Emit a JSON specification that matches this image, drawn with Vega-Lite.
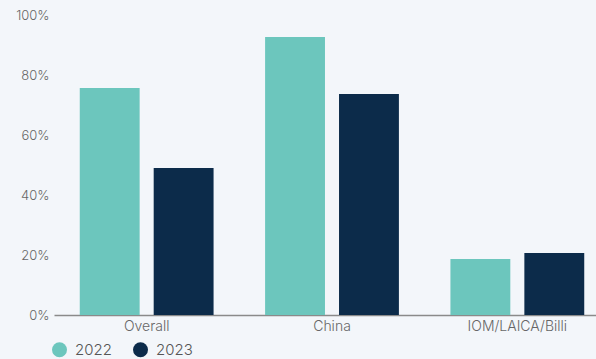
{
  "$schema": "https://vega.github.io/schema/vega-lite/v6.json",
  "autosize": "none",
  "width": 556,
  "height": 300,
  "padding": {"left": 54, "top": 15, "right": 0, "bottom": 44},
  "background": "#f3f6fa",
  "config": {
    "view": {"stroke": null},
    "font": "Inter"
  },
  "data": {
    "values": [
      {"category": "Overall", "year": "2022", "value": 75.7},
      {"category": "Overall", "year": "2023", "value": 49.0},
      {"category": "China", "year": "2022", "value": 92.7},
      {"category": "China", "year": "2023", "value": 73.7},
      {"category": "IOM/LAICA/Billi", "year": "2022", "value": 18.7},
      {"category": "IOM/LAICA/Billi", "year": "2023", "value": 20.7}
    ]
  },
  "mark": {"type": "bar"},
  "encoding": {
    "x": {
      "field": "category",
      "type": "nominal",
      "sort": ["Overall", "China", "IOM/LAICA/Billi"],
      "scale": {"paddingInner": 0.278, "paddingOuter": 0.139},
      "axis": {
        "title": null,
        "labelAngle": 0,
        "labelFontSize": 14,
        "labelFontWeight": 300,
        "labelColor": "#666666",
        "labelPadding": 4,
        "ticks": false,
        "domainColor": "#8a8a8a",
        "domainWidth": 1.5
      }
    },
    "xOffset": {
      "field": "year",
      "type": "nominal",
      "scale": {"paddingInner": 0.19, "paddingOuter": 0}
    },
    "y": {
      "field": "value",
      "type": "quantitative",
      "scale": {"domain": [0, 100]},
      "axis": {
        "title": null,
        "values": [0, 20, 40, 60, 80, 100],
        "labelExpr": "datum.value + '%'",
        "grid": false,
        "domain": false,
        "ticks": false,
        "labelFontSize": 13,
        "labelFontWeight": 300,
        "labelColor": "#666666",
        "labelPadding": 5
      }
    },
    "color": {
      "field": "year",
      "type": "nominal",
      "scale": {"domain": ["2022", "2023"], "range": ["#6cc6bd", "#0c2b4a"]},
      "legend": {
        "title": null,
        "orient": "none",
        "direction": "horizontal",
        "legendX": -2,
        "legendY": 327,
        "symbolType": "circle",
        "symbolSize": 225,
        "symbolStrokeWidth": 0,
        "labelFontSize": 15,
        "labelFontWeight": 300,
        "labelColor": "#555555",
        "labelOffset": 8,
        "columnPadding": 21
      }
    }
  }
}
